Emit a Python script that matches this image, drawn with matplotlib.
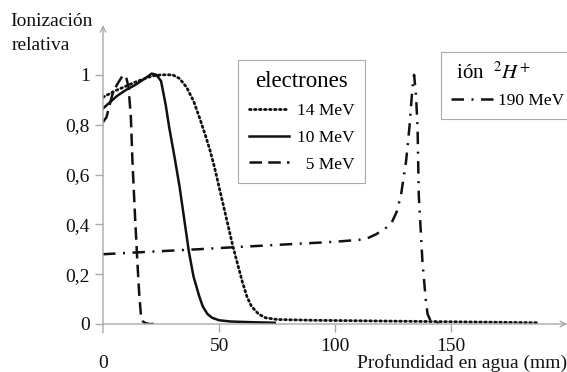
import matplotlib
matplotlib.use("Agg")
import matplotlib.pyplot as plt

plt.rcParams["font.family"] = "Liberation Serif"
plt.rcParams["mathtext.fontset"] = "stix"

# electrones 14 MeV
x14 = [0, 5, 10, 15, 21, 25, 30, 33, 36, 39, 41.5, 44, 46, 48, 50, 52, 54, 56, 58,
       60, 62, 64, 67, 70, 75, 90, 110, 130, 150, 170, 188]
y14 = [0.91, 0.935, 0.955, 0.975, 0.995, 1.0, 1.0, 0.985, 0.95, 0.895, 0.83, 0.76,
       0.70, 0.63, 0.55, 0.47, 0.39, 0.31, 0.24, 0.17, 0.11, 0.07, 0.04, 0.025,
       0.018, 0.015, 0.013, 0.011, 0.009, 0.007, 0.005]
# electrones 10 MeV
x10 = [0, 3, 6, 10, 14, 18, 21, 23, 25, 27, 28.5, 31, 33, 35, 37, 39, 41.5, 43, 45,
       47, 50, 55, 65, 74]
y10 = [0.865, 0.89, 0.915, 0.94, 0.96, 0.985, 1.005, 1.0, 0.975, 0.88, 0.79, 0.66,
       0.55, 0.42, 0.29, 0.19, 0.11, 0.07, 0.04, 0.025, 0.015, 0.01, 0.007, 0.005]
# electrones 5 MeV
x5 = [0, 1.5, 2.6, 4, 6, 8, 9, 10, 11, 12, 12.7, 13.7, 14.8, 15.6, 16.3, 17.2, 18.4,
      20, 22]
y5 = [0.81, 0.83, 0.87, 0.92, 0.96, 0.99, 1.0, 0.99, 0.95, 0.83, 0.65, 0.45, 0.25,
      0.12, 0.04, 0.01, 0.003, 0.0, 0.0]
# ion 2H+ 190 MeV
xh = [0, 20, 41, 60, 80, 100, 113, 117.6, 121, 124, 126.5, 128.4, 130.5, 132, 133.3,
      134, 134.8, 135.5, 136, 137.6, 139, 139.8, 141, 142, 147]
yh = [0.28, 0.29, 0.30, 0.31, 0.32, 0.33, 0.34, 0.36, 0.38, 0.40, 0.45, 0.52, 0.65,
      0.79, 0.95, 1.0, 0.92, 0.79, 0.52, 0.25, 0.10, 0.04, 0.015, 0.005, 0.0]

xticks = [50, 100, 150]
yticks = [0, 0.2, 0.4, 0.6, 0.8, 1]
ylabels = ["0", "0,2", "0,4", "0,6", "0,8", "1"]

W, H = 567, 372
fig = plt.figure(figsize=(W / 100, H / 100), dpi=100)
ax = fig.add_axes([103 / W, 1 - 324 / H, 462 / W, 299 / H])
ax.set_xlim(0, 199)
ax.set_ylim(0, 1.2)

ink = "#111111"
grey = "#aaaaaa"
l14, = ax.plot(x14, y14, color=ink, lw=2, ls=(0, (0.6, 1.2)), dash_capstyle="round")
l10, = ax.plot(x10, y10, color=ink, lw=1.8)
l5, = ax.plot(x5, y5, color=ink, lw=1.8, ls=(0, (5, 2.5)))
lh, = ax.plot(xh, yh, color=ink, lw=1.8, ls=(0, (5, 3, 0.8, 3)))

for s in ax.spines.values():
    s.set_visible(False)
ax.annotate("", xy=(1.005, 0), xytext=(0, 0), xycoords="axes fraction",
            arrowprops=dict(arrowstyle="->", color=grey, lw=1, shrinkA=0, shrinkB=0))
ax.annotate("", xy=(0, 1.0), xytext=(0, -0.03), xycoords="axes fraction",
            arrowprops=dict(arrowstyle="->", color=grey, lw=1, shrinkA=0, shrinkB=0))

ax.set_xticks(xticks)
ax.set_yticks(yticks)
ax.set_yticklabels(ylabels)
ax.tick_params(colors=grey, labelcolor=ink, labelsize=14, length=6, width=1)
ax.tick_params(axis="x", pad=4)

fig.text(10 / W, 1 - 22 / H, "Ionización", ha="left", va="center", fontsize=14, color=ink)
fig.text(12 / W, 1 - 45 / H, "relativa", ha="left", va="center", fontsize=14, color=ink)
fig.text(103 / W, 1 - 363 / H, "0", ha="center", va="center", fontsize=14, color=ink)
fig.text(567 / W, 1 - 363 / H, "Profundidad en agua (mm)", ha="right", va="center",
         fontsize=14, color=ink)

leg1 = ax.legend([l14, l10, l5], ["14 MeV", "10 MeV", "  5 MeV"], title="electrones",
                 loc="upper left", bbox_to_anchor=(238 / W, 1 - 60 / H),
                 bbox_transform=fig.transFigure, borderaxespad=0, fancybox=False,
                 framealpha=1, edgecolor=grey, fontsize=12.5, title_fontsize=16.5,
                 handlelength=2.3, handletextpad=0.45, borderpad=0.62, labelspacing=0.62)
leg1.get_frame().set_linewidth(0.8)
ax.add_artist(leg1)

leg2 = ax.legend([lh], ["190 MeV"], title=" ión  $^{2}\\mathit{H}^{+}$",
                 loc="upper left", bbox_to_anchor=(441 / W, 1 - 52 / H),
                 bbox_transform=fig.transFigure, borderaxespad=0, fancybox=False,
                 framealpha=1, edgecolor=grey, fontsize=12.5, title_fontsize=15,
                 handlelength=2.4, handletextpad=0.3, borderpad=0.6)
leg2.get_frame().set_linewidth(0.8)
leg2._legend_box.align = "left"

fig.savefig("out.png", dpi=100)
